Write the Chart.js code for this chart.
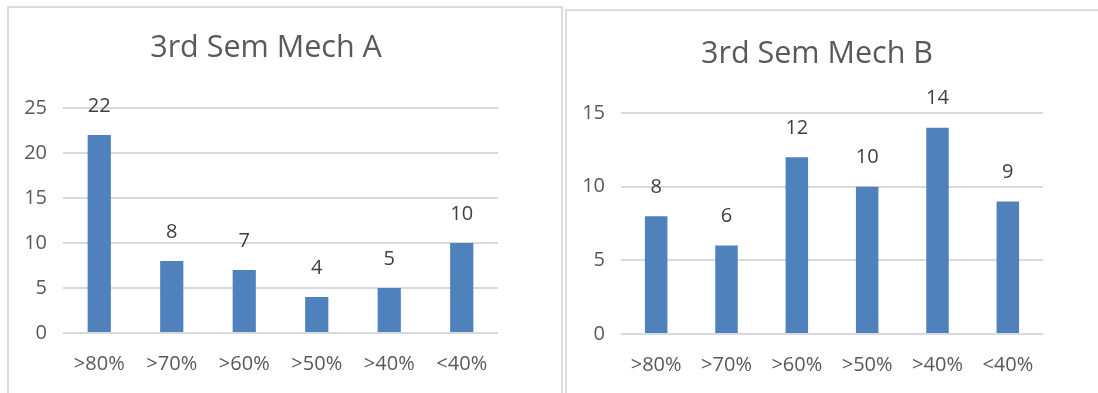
<!DOCTYPE html>
<html>
<head>
<meta charset="utf-8">
<script src="https://cdn.jsdelivr.net/npm/chart.js@4.4.1/dist/chart.umd.min.js"></script>
<style>
  html, body { margin: 0; padding: 0; background: #ffffff; }
  body { width: 1098px; height: 393px; position: relative; overflow: hidden; }
  .panel { position: absolute; border: 2px solid #dcdcdc; box-sizing: border-box; }
  canvas { position: absolute; top: 0; }
</style>
</head>
<body>
<div class="panel" style="left:7px; top:6px; width:556px; height:420px;"></div>
<div class="panel" style="left:565px; top:9px; width:600px; height:420px;"></div>
<canvas id="chartA" style="left:0px;"></canvas>
<canvas id="chartB" style="left:563px;"></canvas>
<script>
// Result bands shared by both sections
const bands = ['>80%', '>70%', '>60%', '>50%', '>40%', '<40%'];

// Number of students per band
const mechA = [22, 8, 7, 4, 5, 10];
const mechB = [8, 6, 12, 10, 14, 9];

// Value axis ticks
const ticksA = [0, 5, 10, 15, 20, 25];
const ticksB = [0, 5, 10, 15];

const FONT = '"Open Sans", "DejaVu Sans", sans-serif';
const BAR_BLUE = '#4f81bd';
const GRID_GREY = '#d9d9d9';
const TEXT_SIZE = 20;

// Writes each bar's value above it
const valueLabels = {
  id: 'valueLabels',
  afterDatasetsDraw(chart) {
    const ctx = chart.ctx;
    const meta = chart.getDatasetMeta(0);
    const values = chart.data.datasets[0].data;
    ctx.save();
    ctx.font = TEXT_SIZE + 'px ' + FONT;
    ctx.fillStyle = '#404040';
    ctx.textAlign = 'center';
    ctx.textBaseline = 'middle';
    meta.data.forEach((bar, i) => {
      ctx.fillText(String(values[i]), bar.x, bar.y - 29);
    });
    ctx.restore();
  }
};

function makeChart(id, title, values, ticks, box) {
  const canvas = document.getElementById(id);
  canvas.width = box.w;
  canvas.height = box.h;
  canvas.style.width = box.w + 'px';
  canvas.style.height = box.h + 'px';

  const titleSize = 30.5;
  const lineH = titleSize * 1.2;
  return new Chart(canvas, {
    type: 'bar',
    data: {
      labels: bands,
      datasets: [{
        data: values,
        backgroundColor: BAR_BLUE,
        borderWidth: 0,
        categoryPercentage: 1,
        barPercentage: 0.32
      }]
    },
    plugins: [valueLabels],
    options: {
      responsive: false,
      animation: false,
      devicePixelRatio: 1,
      layout: { padding: 0 },
      plugins: {
        legend: { display: false },
        tooltip: { enabled: false },
        title: {
          display: true,
          text: title,
          color: '#595959',
          font: { family: FONT, size: titleSize, weight: 'normal', lineHeight: 1.2 },
          padding: { top: box.titleY - lineH / 2, bottom: box.top - box.titleY - lineH / 2 }
        }
      },
      scales: {
        x: {
          grid: { display: false, drawTicks: false },
          border: { display: false },
          ticks: { color: '#595959', font: { family: FONT, size: TEXT_SIZE }, padding: 19, maxRotation: 0, autoSkip: false },
          afterFit(axis) { axis.height = box.h - box.bottom; }
        },
        y: {
          min: ticks[0],
          max: ticks[ticks.length - 1],
          afterBuildTicks(axis) { axis.ticks = ticks.map(v => ({ value: v })); },
          grid: { color: GRID_GREY, lineWidth: 2, drawTicks: false },
          border: { display: false },
          ticks: { color: '#595959', font: { family: FONT, size: TEXT_SIZE }, padding: 16 },
          afterFit(axis) { axis.width = box.left; }
        },
        // blank margin to the right of the plot
        margin: {
          type: 'linear',
          position: 'right',
          grid: { display: false, drawTicks: false },
          border: { display: false },
          ticks: { display: false },
          afterFit(axis) { axis.width = box.w - box.right; }
        }
      }
    }
  });
}

makeChart('chartA', '3rd Sem Mech A', mechA, ticksA,
  { w: 532, h: 393, left: 63, right: 498, top: 108, bottom: 333, titleY: 48.5 });
makeChart('chartB', '3rd Sem Mech B', mechB, ticksB,
  { w: 508, h: 393, left: 58, right: 480, top: 113, bottom: 334, titleY: 54 });
</script>
</body>
</html>
